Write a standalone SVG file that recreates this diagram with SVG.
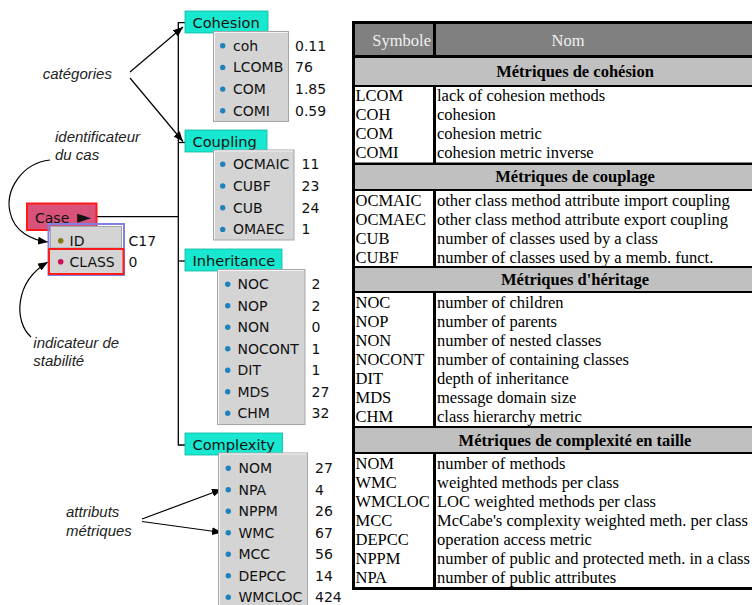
<svg xmlns="http://www.w3.org/2000/svg" width="752" height="605" viewBox="0 0 752 605">
<style>
.sans{font-family:"DejaVu Sans","Liberation Sans",sans-serif;font-size:14px;fill:#111}
.tabt{font-family:"DejaVu Sans","Liberation Sans",sans-serif;font-size:14.6px;fill:#111}
.ann{font-family:"Liberation Sans",Arial,sans-serif;font-size:15px;font-style:italic;fill:#222}
.tab{fill:#17e8cf;stroke:#0db59f;stroke-width:0.8}
.panel{fill:#d4d4d4;stroke:#a6a6a6;stroke-width:1}
.hl{fill:none;stroke:#f4f4f4;stroke-width:1}
.bul{fill:#1f82bd}
.conn{fill:none;stroke:#000;stroke-width:1.3}
.arr{fill:none;stroke:#000;stroke-width:1.2}
.ser{font-family:"Liberation Serif","Times New Roman",serif;font-size:16.5px;fill:#000}
.serb{font-family:"Liberation Serif","Times New Roman",serif;font-size:16.5px;font-weight:bold;fill:#000}
.hdr{font-family:"Liberation Serif","Times New Roman",serif;font-size:16.5px;fill:#f0f0f0}
.hcell{fill:#808080}
.scell{fill:#c0c0c0}
.dcell{fill:#fff}
</style>
<defs>
<marker id="ah" markerUnits="userSpaceOnUse" markerWidth="10" markerHeight="8" refX="10" refY="4" orient="auto">
<path d="M0,0 L10,4 L0,8 z" fill="#000"/>
</marker>
</defs>

<g id="connectors">
<path class="conn" d="M185,22.7 H178.3 V445 H185"/>
<path class="conn" d="M178.3,142.5 H185"/>
<path class="conn" d="M178.3,261 H185"/>
<path class="conn" d="M96.5,216.7 H178.3"/>
<path class="arr" d="M130,72 L183,27" marker-end="url(#ah)"/>
<path class="arr" d="M130,78 L183,141.5" marker-end="url(#ah)"/>
<path class="arr" d="M50,160 C22,163 5,190 10,212 C14,232 32,240 48,242" marker-end="url(#ah)"/>
<path class="arr" d="M31,337 C14,322 14,282 48,262" marker-end="url(#ah)"/>
<path class="arr" d="M142,519 L222,489.3" marker-end="url(#ah)"/>
<path class="arr" d="M142,521.5 L222,532.5" marker-end="url(#ah)"/>
</g>

<g id="annotations">
<text class="ann" x="42.7" y="78.8">catégories</text>
<text class="ann" x="55" y="141.5">identificateur</text>
<text class="ann" x="55" y="159.8">du cas</text>
<text class="ann" x="33.3" y="347.8">indicateur de</text>
<text class="ann" x="33.3" y="365.5">stabilité</text>
<text class="ann" x="66" y="517.2">attributs</text>
<text class="ann" x="66" y="535.8">métriques</text>
</g>

<g id="case">
<rect x="27" y="203.5" width="69.5" height="26.5" fill="#d8527a" stroke="#ff1a1a" stroke-width="2"/>
<text class="sans" x="35" y="222.7">Case</text>
<text class="sans" x="77" y="223" style="font-size:18px">►</text>
<rect x="48.5" y="224" width="75.5" height="51" fill="none" stroke="#8080e0" stroke-width="2"/>
<rect class="panel" x="50.5" y="226.5" width="71" height="21.5"/>
<circle cx="60.7" cy="240.7" r="2.8" fill="#857d10"/>
<text class="sans" x="69.5" y="245.7">ID</text>
<rect x="49" y="249" width="74.5" height="25" fill="#d4d4d4" stroke="#ff1a1a" stroke-width="2"/>
<circle cx="60.7" cy="261.7" r="2.8" fill="#cc1058"/>
<text class="sans" x="69.5" y="266.7">CLASS</text>
<text class="sans" x="128.5" y="245.7">C17</text>
<text class="sans" x="128.5" y="266.7">0</text>
</g>

<g id="cohesion">
<rect class="tab" x="185" y="11" width="83" height="22"/>
<text class="tabt" x="192.5" y="28">Cohesion</text>
<rect class="panel" x="213.5" y="31.5" width="75" height="90"/>
<path class="hl" d="M214.5,120.5 V32.5 H287.5"/>
<circle class="bul" cx="222.7" cy="45.7" r="2.7"/>
<circle class="bul" cx="222.7" cy="67.4" r="2.7"/>
<circle class="bul" cx="222.7" cy="89.1" r="2.7"/>
<circle class="bul" cx="222.7" cy="110.8" r="2.7"/>
<text class="sans" x="233" y="50.7">coh</text>
<text class="sans" x="233" y="72.4">LCOMB</text>
<text class="sans" x="233" y="94.1">COM</text>
<text class="sans" x="233" y="115.8">COMI</text>
<text class="sans" x="295" y="50.7">0.11</text>
<text class="sans" x="295" y="72.4">76</text>
<text class="sans" x="295" y="94.1">1.85</text>
<text class="sans" x="295" y="115.8">0.59</text>
</g>

<g id="coupling">
<rect class="tab" x="185" y="130" width="82" height="22"/>
<text class="tabt" x="192.5" y="147">Coupling</text>
<rect class="panel" x="213.5" y="150" width="80.5" height="90"/>
<path class="hl" d="M214.5,239 V151 H293"/>
<circle class="bul" cx="222.7" cy="164.3" r="2.7"/>
<circle class="bul" cx="222.7" cy="186" r="2.7"/>
<circle class="bul" cx="222.7" cy="207.7" r="2.7"/>
<circle class="bul" cx="222.7" cy="229.4" r="2.7"/>
<text class="sans" x="233" y="169.3">OCMAIC</text>
<text class="sans" x="233" y="191">CUBF</text>
<text class="sans" x="233" y="212.7">CUB</text>
<text class="sans" x="233" y="234.4">OMAEC</text>
<text class="sans" x="301.5" y="169.3">11</text>
<text class="sans" x="301.5" y="191">23</text>
<text class="sans" x="301.5" y="212.7">24</text>
<text class="sans" x="301.5" y="234.4">1</text>
</g>

<g id="inheritance">
<rect class="tab" x="185" y="249" width="97" height="22"/>
<text class="tabt" x="192.5" y="266">Inheritance</text>
<rect class="panel" x="217.5" y="269.5" width="87.5" height="155"/>
<path class="hl" d="M218.5,423.5 V270.5 H304"/>
<circle class="bul" cx="227.7" cy="284.3" r="2.7"/>
<circle class="bul" cx="227.7" cy="305.8" r="2.7"/>
<circle class="bul" cx="227.7" cy="327.3" r="2.7"/>
<circle class="bul" cx="227.7" cy="348.8" r="2.7"/>
<circle class="bul" cx="227.7" cy="370.3" r="2.7"/>
<circle class="bul" cx="227.7" cy="391.8" r="2.7"/>
<circle class="bul" cx="227.7" cy="413.3" r="2.7"/>
<text class="sans" x="237.5" y="289.3">NOC</text>
<text class="sans" x="237.5" y="310.8">NOP</text>
<text class="sans" x="237.5" y="332.3">NON</text>
<text class="sans" x="237.5" y="353.8">NOCONT</text>
<text class="sans" x="237.5" y="375.3">DIT</text>
<text class="sans" x="237.5" y="396.8">MDS</text>
<text class="sans" x="237.5" y="418.3">CHM</text>
<text class="sans" x="311.5" y="289.3">2</text>
<text class="sans" x="311.5" y="310.8">2</text>
<text class="sans" x="311.5" y="332.3">0</text>
<text class="sans" x="311.5" y="353.8">1</text>
<text class="sans" x="311.5" y="375.3">1</text>
<text class="sans" x="311.5" y="396.8">27</text>
<text class="sans" x="311.5" y="418.3">32</text>
</g>

<g id="complexity">
<rect class="tab" x="185" y="433" width="97.5" height="22"/>
<text class="tabt" x="192.5" y="450">Complexity</text>
<rect class="panel" x="218.5" y="453" width="89" height="160"/>
<path class="hl" d="M219.5,612 V454 H306.5"/>
<circle class="bul" cx="228.3" cy="468.3" r="2.7"/>
<circle class="bul" cx="228.3" cy="489.8" r="2.7"/>
<circle class="bul" cx="228.3" cy="511.3" r="2.7"/>
<circle class="bul" cx="228.3" cy="532.8" r="2.7"/>
<circle class="bul" cx="228.3" cy="554.3" r="2.7"/>
<circle class="bul" cx="228.3" cy="575.8" r="2.7"/>
<circle class="bul" cx="228.3" cy="597.3" r="2.7"/>
<text class="sans" x="238.5" y="473.3">NOM</text>
<text class="sans" x="238.5" y="494.8">NPA</text>
<text class="sans" x="238.5" y="516.3">NPPM</text>
<text class="sans" x="238.5" y="537.8">WMC</text>
<text class="sans" x="238.5" y="559.3">MCC</text>
<text class="sans" x="238.5" y="580.8">DEPCC</text>
<text class="sans" x="238.5" y="602.3">WMCLOC</text>
<text class="sans" x="315" y="473.3">27</text>
<text class="sans" x="315" y="494.8">4</text>
<text class="sans" x="315" y="516.3">26</text>
<text class="sans" x="315" y="537.8">67</text>
<text class="sans" x="315" y="559.3">56</text>
<text class="sans" x="315" y="580.8">14</text>
<text class="sans" x="315" y="602.3">424</text>
</g>

<g id="table">
<rect x="352" y="21" width="420" height="569" fill="#000"/>
<rect class="hcell" x="355" y="24" width="78" height="31"/>
<rect class="hcell" x="436" y="24" width="330" height="31"/>
<text class="hdr" x="431" y="46" text-anchor="end">Symbole</text>
<text class="hdr" x="568" y="46" text-anchor="middle">Nom</text>

<rect class="scell" x="355" y="58" width="410" height="27"/>
<text class="serb" x="575" y="77" text-anchor="middle">Métriques de cohésion</text>
<rect class="dcell" x="355" y="87" width="78" height="75.5"/>
<rect class="dcell" x="436" y="87" width="330" height="75.5"/>
<text class="ser" x="355.5" y="101">LCOM</text>
<text class="ser" x="355.5" y="120">COH</text>
<text class="ser" x="355.5" y="139">COM</text>
<text class="ser" x="355.5" y="158">COMI</text>
<text class="ser" x="437" y="101">lack of cohesion methods</text>
<text class="ser" x="437" y="120">cohesion</text>
<text class="ser" x="437" y="139">cohesion metric</text>
<text class="ser" x="437" y="158">cohesion metric inverse</text>

<rect class="scell" x="355" y="165" width="410" height="24"/>
<text class="serb" x="575" y="182" text-anchor="middle">Métriques de couplage</text>
<rect class="dcell" x="355" y="191" width="78" height="75"/>
<rect class="dcell" x="436" y="191" width="330" height="75"/>
<text class="ser" x="355.5" y="205.5">OCMAIC</text>
<text class="ser" x="355.5" y="224.5">OCMAEC</text>
<text class="ser" x="355.5" y="243.5">CUB</text>
<text class="ser" x="355.5" y="262.5">CUBF</text>
<text class="ser" x="437" y="205.5">other class method attribute import coupling</text>
<text class="ser" x="437" y="224.5">other class method attribute export coupling</text>
<text class="ser" x="437" y="243.5">number of classes used by a class</text>
<text class="ser" x="437" y="262.5">number of classes used by a memb. funct.</text>

<rect class="scell" x="355" y="268" width="410" height="23"/>
<text class="serb" x="575" y="285" text-anchor="middle">Métriques d'héritage</text>
<rect class="dcell" x="355" y="293" width="78" height="133"/>
<rect class="dcell" x="436" y="293" width="330" height="133"/>
<text class="ser" x="355.5" y="307.5">NOC</text>
<text class="ser" x="355.5" y="326.5">NOP</text>
<text class="ser" x="355.5" y="345.5">NON</text>
<text class="ser" x="355.5" y="364.5">NOCONT</text>
<text class="ser" x="355.5" y="383.5">DIT</text>
<text class="ser" x="355.5" y="402.5">MDS</text>
<text class="ser" x="355.5" y="421.5">CHM</text>
<text class="ser" x="437" y="307.5">number of children</text>
<text class="ser" x="437" y="326.5">number of parents</text>
<text class="ser" x="437" y="345.5">number of nested classes</text>
<text class="ser" x="437" y="364.5">number of containing classes</text>
<text class="ser" x="437" y="383.5">depth of inheritance</text>
<text class="ser" x="437" y="402.5">message domain size</text>
<text class="ser" x="437" y="421.5">class hierarchy metric</text>

<rect class="scell" x="355" y="428" width="410" height="24"/>
<text class="serb" x="575" y="445.5" text-anchor="middle">Métriques de complexité en taille</text>
<rect class="dcell" x="355" y="454" width="78" height="133"/>
<rect class="dcell" x="436" y="454" width="330" height="133"/>
<text class="ser" x="355.5" y="468.5">NOM</text>
<text class="ser" x="355.5" y="487.5">WMC</text>
<text class="ser" x="355.5" y="506.5">WMCLOC</text>
<text class="ser" x="355.5" y="525.5">MCC</text>
<text class="ser" x="355.5" y="544.5">DEPCC</text>
<text class="ser" x="355.5" y="563.5">NPPM</text>
<text class="ser" x="355.5" y="582.5">NPA</text>
<text class="ser" x="437" y="468.5">number of methods</text>
<text class="ser" x="437" y="487.5">weighted methods per class</text>
<text class="ser" x="437" y="506.5">LOC weighted methods per class</text>
<text class="ser" x="437" y="525.5">McCabe's complexity weighted meth. per class</text>
<text class="ser" x="437" y="544.5">operation access metric</text>
<text class="ser" x="437" y="563.5">number of public and protected meth. in a class</text>
<text class="ser" x="437" y="582.5">number of public attributes</text>
</g>
</svg>
